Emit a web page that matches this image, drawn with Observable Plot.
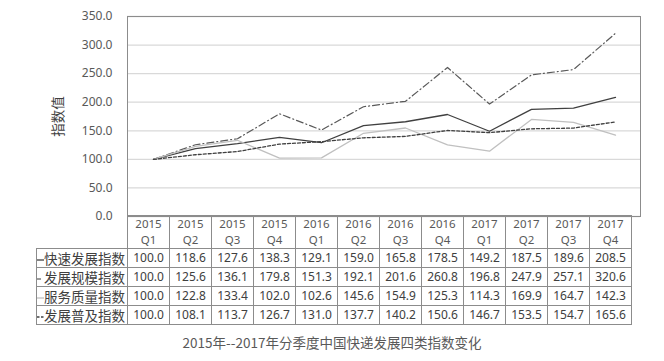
<!DOCTYPE html>
<html><head><meta charset="utf-8">
<script src="https://cdn.jsdelivr.net/npm/d3@7"></script>
<script src="https://cdn.jsdelivr.net/npm/@observablehq/plot@0.6"></script>
<style>
body{margin:0;background:#fff;}
#wrap{position:relative;width:664px;height:361px;font-family:"Noto Sans","Noto Sans CJK SC",sans-serif;color:#404040;background:#fff;}
#chart{position:absolute;left:0;top:0;}
#tbl{position:absolute;left:36px;top:215px;border-collapse:collapse;table-layout:fixed;}
#tbl td{border:1px solid #8c8c8c;padding:0;text-align:center;font-size:12px;white-space:nowrap;overflow:hidden;color:#404040;}
#tbl tr.hdr td{height:32px;color:#595959;font-size:11.5px;}
#tbl tr.hdr td div{height:16px;line-height:16px;}
#tbl tr.row td{height:18px;line-height:18px;}
#tbl td.lab{text-align:left;font-family:"Noto Sans CJK SC",sans-serif;font-size:13.5px;color:#404040;}
#tbl td.lab svg{vertical-align:middle;margin-right:0px;}
#tbl td.corner{border-left:none;border-top:none;}
#cap{position:absolute;left:0;width:664px;top:332px;text-align:center;font-family:"Noto Sans CJK SC",sans-serif;font-size:13.5px;color:#595959;}
</style>
</head><body>
<div id="wrap"><div id="chart"></div><div id="cap"></div></div>
<script>
const years = ["2015","2015","2015","2015","2016","2016","2016","2016","2017","2017","2017","2017"];
const qtrs = ["Q1","Q2","Q3","Q4","Q1","Q2","Q3","Q4","Q1","Q2","Q3","Q4"];
const seriesNames = ["快速发展指数","发展规模指数","服务质量指数","发展普及指数"];
const kuaisu = [100.0,118.6,127.6,138.3,129.1,159.0,165.8,178.5,149.2,187.5,189.6,208.5];
const guimo  = [100.0,125.6,136.1,179.8,151.3,192.1,201.6,260.8,196.8,247.9,257.1,320.6];
const zhiliang = [100.0,122.8,133.4,102.0,102.6,145.6,154.9,125.3,114.3,169.9,164.7,142.3];
const puji   = [100.0,108.1,113.7,126.7,131.0,137.7,140.2,150.6,146.7,153.5,154.7,165.6];
const yTicks = [0,50,100,150,200,250,300,350];
const yLabel = "指数值";
const caption = "2015年--2017年分季度中国快递发展四类指数变化";

const quarters = years.map((y,i)=>y+" "+qtrs[i]);
const valuesList = [kuaisu, guimo, zhiliang, puji];
const styles = [
  {stroke:"#404040", dash:null, width:1.3},
  {stroke:"#595959", dash:"7,3,1,3", width:1.2},
  {stroke:"#c0c0c0", dash:null, width:1.3},
  {stroke:"#404040", dash:"3,2", width:1.3}
];
const data = [];
seriesNames.forEach((s,k)=>valuesList[k].forEach((v,i)=>data.push({s, q:quarters[i], v})));

const fmt = d3.format(".1f");
const plot = Plot.plot({
  width:664, height:232,
  marginLeft:127, marginRight:24, marginTop:16, marginBottom:16,
  style:{fontFamily:'"Noto Sans","Noto Sans CJK SC",sans-serif', fontSize:"12px", color:"#595959", background:"transparent"},
  x:{type:"point", domain:quarters, padding:0.5, axis:null},
  y:{domain:[0,350]},
  marks:[
    Plot.gridY(yTicks, {stroke:"#d9d9d9", strokeOpacity:1, strokeWidth:1.3}),
    Plot.frame({stroke:"#8c8c8c"}),
    ...seriesNames.map((s,k)=>Plot.line(data.filter(d=>d.s===s), {x:"q", y:"v", stroke:styles[k].stroke, strokeWidth:styles[k].width, strokeDasharray:styles[k].dash})),
    Plot.axisY(yTicks, {tickFormat:fmt, tickSize:0, tickPadding:15, fill:"#595959", fontSize:12, label:yLabel, labelAnchor:"center", labelOffset:74, labelArrow:"none"})
  ]
});
document.getElementById("chart").appendChild(plot);
plot.querySelectorAll("text").forEach(t=>{ if (t.textContent===yLabel) { t.setAttribute("font-size","13.5"); t.setAttribute("fill","#404040"); }});

// table aligned to the plot's x scale
const xs = plot.scale("x");
const step = xs.step;
const left0 = 36, plotLeft = 127;
const tbl = document.createElement("table");
tbl.id = "tbl";
tbl.style.width = (plotLeft - left0 + step*quarters.length) + "px";
const cg = document.createElement("colgroup");
const c0 = document.createElement("col"); c0.style.width = (plotLeft-left0)+"px"; cg.appendChild(c0);
quarters.forEach(()=>{const c=document.createElement("col"); c.style.width=step+"px"; cg.appendChild(c);});
tbl.appendChild(cg);
const hr = document.createElement("tr"); hr.className="hdr";
const corner = document.createElement("td"); corner.className="corner"; hr.appendChild(corner);
quarters.forEach((q,i)=>{const td=document.createElement("td"); td.innerHTML="<div>"+years[i]+"</div><div>"+qtrs[i]+"</div>"; hr.appendChild(td);});
tbl.appendChild(hr);
seriesNames.forEach((s,k)=>{
  const tr=document.createElement("tr"); tr.className="row";
  const lab=document.createElement("td"); lab.className="lab";
  const st=styles[k];
  lab.innerHTML = `<svg width="7" height="10"><line x1="0" x2="7" y1="5" y2="5" stroke="${st.stroke}" stroke-width="${st.width}" ${st.dash?`stroke-dasharray="${k===1?'4,3':'2.5,1.5'}"`:''}/></svg>`+s;
  tr.appendChild(lab);
  valuesList[k].forEach(v=>{const td=document.createElement("td"); td.textContent=fmt(v); tr.appendChild(td);});
  tbl.appendChild(tr);
});
document.getElementById("wrap").appendChild(tbl);
document.getElementById("cap").textContent = caption;
</script>
</body></html>
